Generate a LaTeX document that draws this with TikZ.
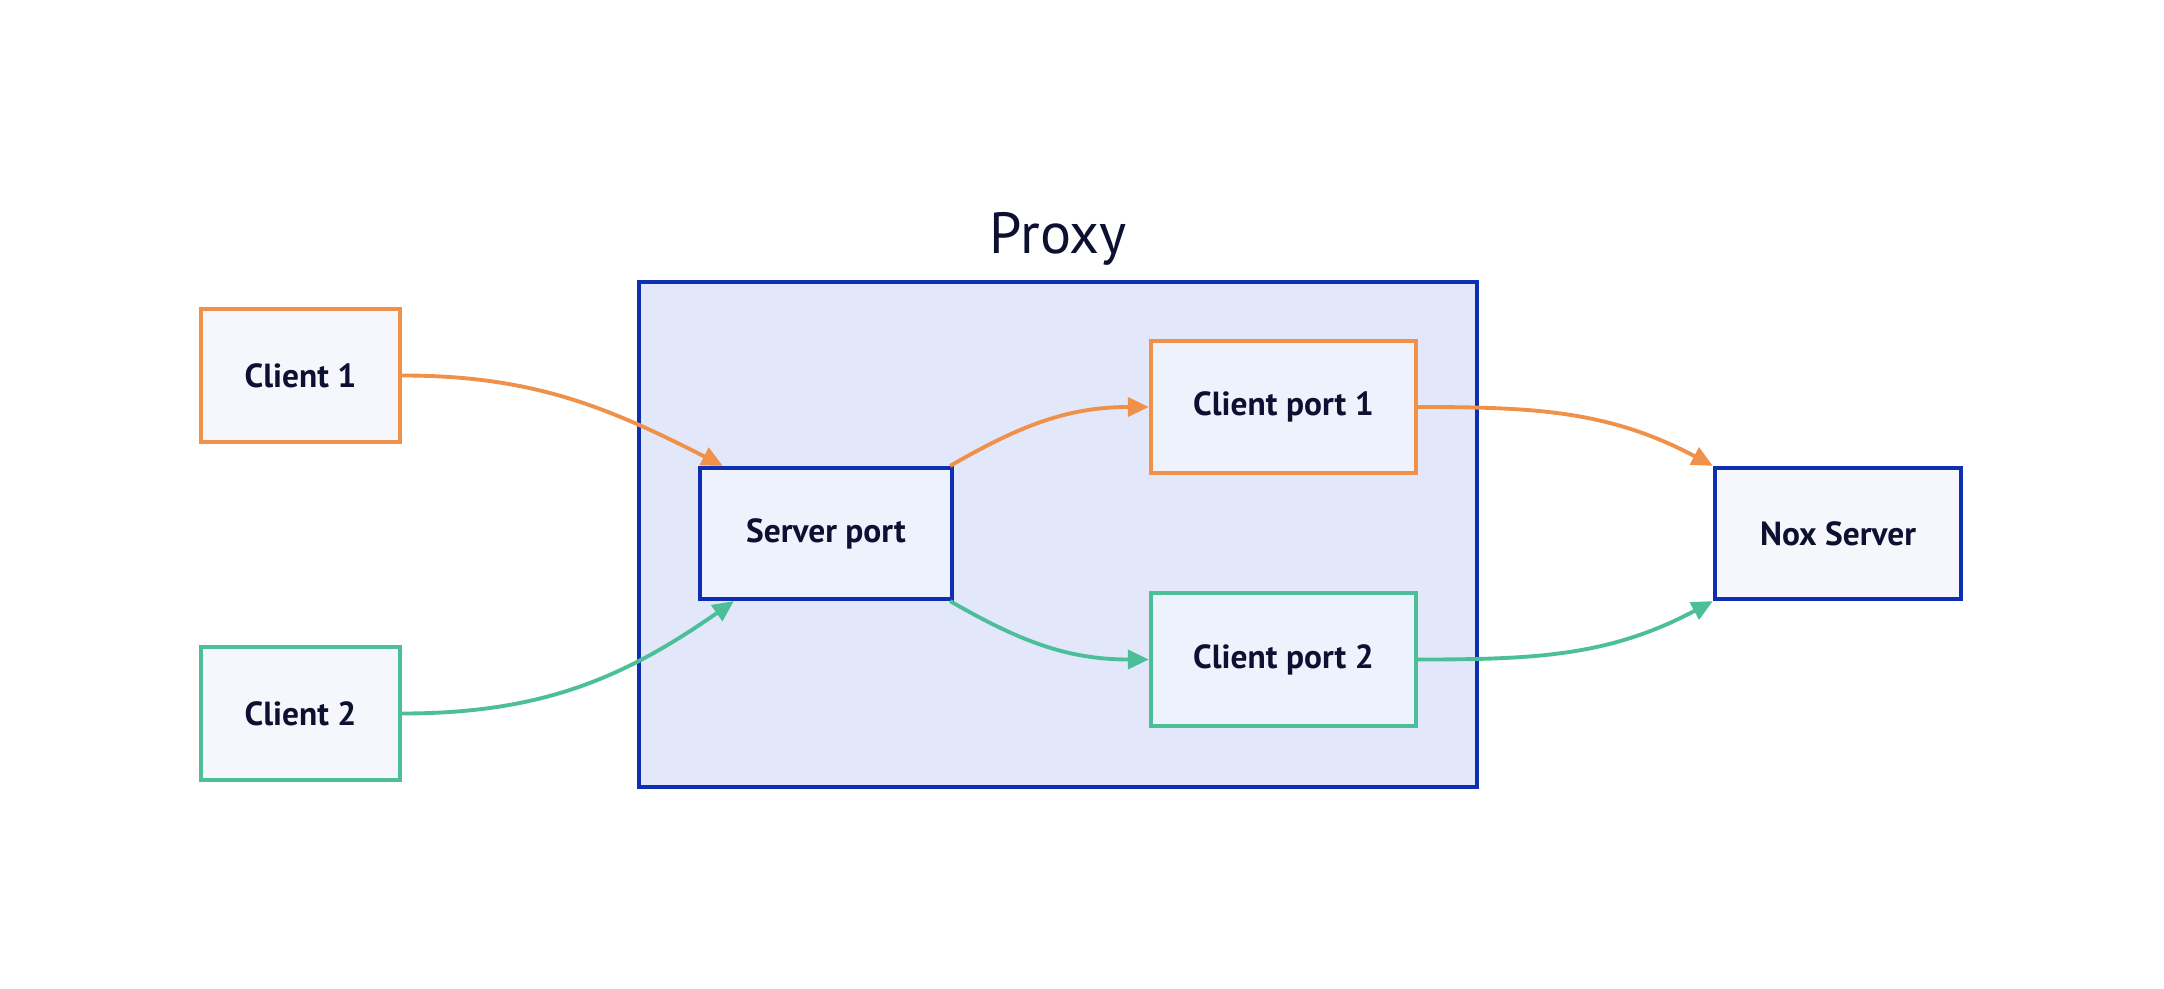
\documentclass[tikz,border=0pt]{standalone}
\usepackage{fontspec}
\setmainfont{PT Sans}
\usetikzlibrary{arrows.meta,calc}
\definecolor{corange}{HTML}{F0914A}
\definecolor{cteal}{HTML}{4CBF99}
\definecolor{cblue}{HTML}{0F2FB2}
\definecolor{proxyfill}{HTML}{E2E8FA}
\definecolor{outfill}{HTML}{F6F7FC}
\definecolor{infill}{HTML}{EDF2FD}
\definecolor{ctext}{HTML}{0D1030}
\tikzset{
  box/.style={draw, line width=1.2pt, inner sep=0pt, text=ctext, font=\bfseries\fontsize{9.5}{11}\selectfont},
  conn/.style={line width=1.1pt, -{Triangle[length=0.21cm,width=0.19cm]}},
}
\begin{document}
\begin{tikzpicture}[x=0.01cm,y=-0.01cm]
\path[fill=white,use as bounding box] (0,0) rectangle (2164,988);
\node[draw=cblue, fill=proxyfill, line width=1.2pt, minimum width=8.38cm, minimum height=5.05cm, inner sep=0pt] (proxy) at (1058,534.5) {};
\node[text=ctext, font=\fontsize{16.5}{19}\selectfont] (proxylbl) at (1058,239) {Proxy};
\node[box, draw=corange, fill=outfill, minimum width=1.99cm, minimum height=1.33cm] (c1) at (300.5,375.5) {Client 1};
\node[box, draw=cteal, fill=outfill, minimum width=1.99cm, minimum height=1.33cm] (c2) at (300.5,713.5) {Client 2};
\node[box, draw=cblue, fill=infill, minimum width=2.52cm, minimum height=1.31cm] (sp) at (826,533.5) {Server port};
\node[box, draw=corange, fill=infill, minimum width=2.65cm, minimum height=1.32cm] (cp1) at (1283.5,407) {Client port 1};
\node[box, draw=cteal, fill=infill, minimum width=2.65cm, minimum height=1.33cm] (cp2) at (1283.5,659.5) {Client port 2};
\node[box, draw=cblue, fill=outfill, minimum width=2.46cm, minimum height=1.31cm] (nox) at (1838,533.5) {Nox Server};
\draw[conn, corange] (c1.east) to[out=0,in=153] ([xshift=0.25cm]sp.north west);
\draw[conn, cteal] (c2.east) to[out=0,in=215] ([xshift=0.36cm]sp.south west);
\draw[conn, corange] ([xshift=-0.04cm]sp.north east) to[out=30,in=180] (cp1.west);
\draw[conn, cteal] ([xshift=-0.04cm]sp.south east) to[out=-30,in=180] (cp2.west);
\draw[conn, corange] (cp1.east) to[out=0,in=152] (nox.north west);
\draw[conn, cteal] (cp2.east) to[out=0,in=208] (nox.south west);
\end{tikzpicture}
\end{document}
